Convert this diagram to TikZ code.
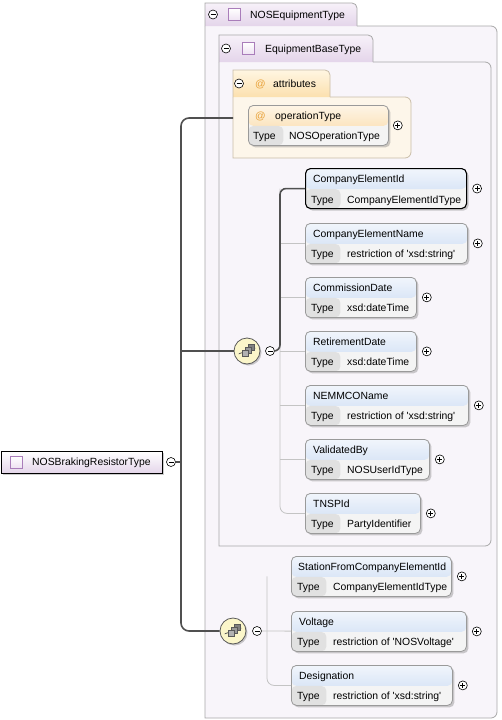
\documentclass[tikz,border=0pt]{standalone}
\usepackage{fontspec}
\setmainfont{Liberation Sans}
\usetikzlibrary{shadows}

\definecolor{lavtop}{HTML}{F7F1F9}
\definecolor{lavbot}{HTML}{E4D5EA}
\definecolor{lavbody}{HTML}{F8F5FA}
\definecolor{boxline}{HTML}{A8A8A8}
\definecolor{attrtop}{HTML}{FFF6E2}
\definecolor{attrbot}{HTML}{FCE0AE}
\definecolor{attrbody}{HTML}{FDF6EA}
\definecolor{attrline}{HTML}{C9BDA8}
\definecolor{hdblue}{HTML}{C6D8F2}
\definecolor{hdorange}{HTML}{FAD69C}
\definecolor{typecell}{HTML}{E1E1E1}
\definecolor{valcell}{HTML}{F4F4F4}
\definecolor{elemline}{HTML}{9A9A9A}
\definecolor{seqfill}{HTML}{FBF6CA}
\definecolor{wirecol}{HTML}{505050}
\definecolor{twigcol}{HTML}{C4C4C4}
\definecolor{atsign}{HTML}{E8A23A}
\definecolor{iconline}{HTML}{A97DBA}
\definecolor{iconfill}{HTML}{EEE2F2}

\begin{document}
\begin{tikzpicture}[x=1pt, y=-1pt,
txt/.style={font=\fontsize{10.4}{12}\selectfont, inner sep=0pt, text height=7pt, text depth=0pt, anchor=west},
cbox/.style={draw=boxline, line width=0.8pt},
elem/.style={draw=elemline, line width=0.8pt, rounded corners=5pt, minimum height=40pt, inner sep=0pt, anchor=north west, fill=valcell,
  drop shadow={shadow xshift=2pt, shadow yshift=-2pt, fill=black!50, opacity=0.4},
  path picture={
    \shade[top color=#1!25!white, bottom color=#1] (path picture bounding box.north west) rectangle ([yshift=19.5pt]path picture bounding box.south east);
    \fill[typecell] ([yshift=19.5pt]path picture bounding box.south west) rectangle ([xshift=35pt]path picture bounding box.south west);
  }},
sel/.style={draw=black, line width=1.1pt},
pm/.style={circle, draw=black, fill=white, line width=0.6pt, minimum size=9pt, inner sep=0pt},
minus/.style={pm, path picture={\draw[line width=0.7pt] ([xshift=-2.5pt]path picture bounding box.center) -- ([xshift=2.5pt]path picture bounding box.center);}},
plus/.style={pm, path picture={\draw[line width=0.7pt] ([xshift=-2.5pt]path picture bounding box.center) -- ([xshift=2.5pt]path picture bounding box.center) ([yshift=-2.5pt]path picture bounding box.center) -- ([yshift=2.5pt]path picture bounding box.center);}},
seq/.style={circle, draw=black!65, line width=0.8pt, fill=seqfill, minimum size=26pt, inner sep=0pt,
  drop shadow={shadow xshift=1.5pt, shadow yshift=-1.5pt, fill=black!50, opacity=0.4},
  path picture={
    \coordinate (g) at (path picture bounding box.center);
    \draw[line width=0.8pt] ([shift={(-9,3)}]g) -- ([shift={(9,-3)}]g);
    \fill ([shift={(-9,3)}]g) circle (1.2pt) ([shift={(9,-3)}]g) circle (1.2pt);
    \draw[fill=black!50, line width=0.6pt] ([shift={(1,-7)}]g) rectangle ([shift={(7,-1)}]g);
    \draw[fill=black!40, line width=0.6pt] ([shift={(-2,-4)}]g) rectangle ([shift={(4,2)}]g);
    \draw[fill=black!30, line width=0.6pt] ([shift={(-5,-1)}]g) rectangle ([shift={(1,5)}]g);
  }},
mainbox/.style={draw=black, line width=0.9pt, top color=white, bottom color=lavbot, minimum width=161pt, minimum height=22pt, inner sep=0pt, anchor=north west,
  drop shadow={shadow xshift=2pt, shadow yshift=-2pt, fill=black!50, opacity=0.4}},
tyicon/.style={draw=iconline, line width=0.7pt, top color=white, bottom color=iconfill, minimum size=12pt, inner sep=0pt},
wire/.style={draw=wirecol, line width=1.6pt},
twig/.style={draw=twigcol, line width=0.8pt}]
\useasboundingbox (0,0) rectangle (501,720);

\draw[cbox, fill=lavbody] (357,26) [rounded corners=6pt] -- (497,26) -- (497,718) [sharp corners] -- (205,718) -- (205,26);
\draw[cbox, top color=lavtop, bottom color=lavbot] (205,26) -- (205,3) [rounded corners=5pt] -- (357,3) [sharp corners] -- (357,26);
\node[minus] (eqminus) at (213,14.5) {};
\node[tyicon] (eqicon) at (234,14.5) {};
\node[txt] (eqname) at (250,14.5) {NOSEquipmentType};

\draw[cbox, fill=lavbody] (373,62) [rounded corners=6pt] -- (491,62) -- (491,546) [sharp corners] -- (219,546) -- (219,62);
\draw[cbox, top color=lavtop, bottom color=lavbot] (219,62) -- (219,35) [rounded corners=5pt] -- (373,35) [sharp corners] -- (373,62);
\node[minus] (baseminus) at (226,48.5) {};
\node[tyicon] (baseicon) at (248,48.5) {};
\node[txt] (basename) at (265,48.5) {EquipmentBaseType};

\draw[cbox, draw=attrline, fill=attrbody] (330,97) [rounded corners=6pt] -- (411,97) -- (411,158) [sharp corners] -- (233,158) -- (233,97);
\draw[cbox, draw=attrline, top color=attrtop, bottom color=attrbot] (233,97) -- (233,70) [rounded corners=5pt] -- (330,70) [sharp corners] -- (330,97);
\node[minus] (attrminus) at (239,83.5) {};
\node[txt] (attrat) at (255,83.5) {\textcolor{atsign}{@}};
\node[txt] (attrname) at (273,83.5) {attributes};

\node[elem=hdorange, minimum width=140] (optype) at (248,105) {};
\node[txt] (optypeat) at ([xshift=7pt,yshift=-10.5pt]optype.north west) {\textcolor{atsign}{@}};
\node[txt] (optypename) at ([xshift=27pt,yshift=-10.5pt]optype.north west) {operationType};
\node[txt] (optypetype) at ([xshift=5pt,yshift=9.5pt]optype.south west) {Type};
\node[txt] (optypeval) at ([xshift=41pt,yshift=9.5pt]optype.south west) {NOSOperationType};
\node[plus] (optypeplus) at ([xshift=9pt]optype.east) {};

\node[elem=hdblue, sel, minimum width=161] (cid) at (305,168) {};
\node[txt] (cidname) at ([xshift=8pt,yshift=-10.5pt]cid.north west) {CompanyElementId};
\node[txt] (cidtype) at ([xshift=6pt,yshift=9.5pt]cid.south west) {Type};
\node[txt] (cidval) at ([xshift=42pt,yshift=9.5pt]cid.south west) {CompanyElementIdType};
\node[plus] (cidplus) at ([xshift=10pt]cid.east) {};

\node[elem=hdblue, minimum width=162] (cname) at (305,223) {};
\node[txt] (cnamename) at ([xshift=8pt,yshift=-10.5pt]cname.north west) {CompanyElementName};
\node[txt] (cnametype) at ([xshift=6pt,yshift=9.5pt]cname.south west) {Type};
\node[txt] (cnameval) at ([xshift=42pt,yshift=9.5pt]cname.south west) {restriction of \textquotesingle xsd:string\textquotesingle};
\node[plus] (cnameplus) at ([xshift=10pt]cname.east) {};

\node[elem=hdblue, minimum width=111] (commdate) at (305,277) {};
\node[txt] (commdatename) at ([xshift=8pt,yshift=-10.5pt]commdate.north west) {CommissionDate};
\node[txt] (commdatetype) at ([xshift=6pt,yshift=9.5pt]commdate.south west) {Type};
\node[txt] (commdateval) at ([xshift=42pt,yshift=9.5pt]commdate.south west) {xsd:dateTime};
\node[plus] (commdateplus) at ([xshift=10pt]commdate.east) {};

\node[elem=hdblue, minimum width=111] (retdate) at (305,331) {};
\node[txt] (retdatename) at ([xshift=8pt,yshift=-10.5pt]retdate.north west) {RetirementDate};
\node[txt] (retdatetype) at ([xshift=6pt,yshift=9.5pt]retdate.south west) {Type};
\node[txt] (retdateval) at ([xshift=42pt,yshift=9.5pt]retdate.south west) {xsd:dateTime};
\node[plus] (retdateplus) at ([xshift=10pt]retdate.east) {};

\node[elem=hdblue, minimum width=163] (nemmco) at (305,385) {};
\node[txt] (nemmconame) at ([xshift=8pt,yshift=-10.5pt]nemmco.north west) {NEMMCOName};
\node[txt] (nemmcotype) at ([xshift=6pt,yshift=9.5pt]nemmco.south west) {Type};
\node[txt] (nemmcoval) at ([xshift=42pt,yshift=9.5pt]nemmco.south west) {restriction of \textquotesingle xsd:string\textquotesingle};
\node[plus] (nemmcoplus) at ([xshift=10pt]nemmco.east) {};

\node[elem=hdblue, minimum width=124] (validby) at (305,439) {};
\node[txt] (validbyname) at ([xshift=8pt,yshift=-10.5pt]validby.north west) {ValidatedBy};
\node[txt] (validbytype) at ([xshift=6pt,yshift=9.5pt]validby.south west) {Type};
\node[txt] (validbyval) at ([xshift=42pt,yshift=9.5pt]validby.south west) {NOSUserIdType};
\node[plus] (validbyplus) at ([xshift=10pt]validby.east) {};

\node[elem=hdblue, minimum width=115] (tnsp) at (305,493) {};
\node[txt] (tnspname) at ([xshift=8pt,yshift=-10.5pt]tnsp.north west) {TNSPId};
\node[txt] (tnsptype) at ([xshift=6pt,yshift=9.5pt]tnsp.south west) {Type};
\node[txt] (tnspval) at ([xshift=42pt,yshift=9.5pt]tnsp.south west) {PartyIdentifier};
\node[plus] (tnspplus) at ([xshift=10pt]tnsp.east) {};

\node[elem=hdblue, minimum width=160] (station) at (291,556) {};
\node[txt] (stationname) at ([xshift=7pt,yshift=-10.5pt]station.north west) {StationFromCompanyElementId};
\node[txt] (stationtype) at ([xshift=6pt,yshift=9.5pt]station.south west) {Type};
\node[txt] (stationval) at ([xshift=42pt,yshift=9.5pt]station.south west) {CompanyElementIdType};
\node[plus] (stationplus) at ([xshift=10pt]station.east) {};

\node[elem=hdblue, minimum width=175] (volt) at (291,611) {};
\node[txt] (voltname) at ([xshift=8pt,yshift=-10.5pt]volt.north west) {Voltage};
\node[txt] (volttype) at ([xshift=6pt,yshift=9.5pt]volt.south west) {Type};
\node[txt] (voltval) at ([xshift=42pt,yshift=9.5pt]volt.south west) {restriction of \textquotesingle NOSVoltage\textquotesingle};
\node[plus] (voltplus) at ([xshift=10pt]volt.east) {};

\node[elem=hdblue, minimum width=161] (desig) at (291,665) {};
\node[txt] (designame) at ([xshift=8pt,yshift=-10.5pt]desig.north west) {Designation};
\node[txt] (desigtype) at ([xshift=6pt,yshift=9.5pt]desig.south west) {Type};
\node[txt] (desigval) at ([xshift=42pt,yshift=9.5pt]desig.south west) {restriction of \textquotesingle xsd:string\textquotesingle};
\node[plus] (desigplus) at ([xshift=10pt]desig.east) {};

\node[seq] (seqa) at (247,351) {};
\node[minus] (seqaminus) at (270,351) {};
\coordinate (abus) at (280,351);
\node[seq] (seqb) at (233,631) {};
\node[minus] (seqbminus) at (257,631) {};
\coordinate (bbus) at (267,631);

\node[mainbox] (mainel) at (1,451) {};
\node[tyicon] (mainicon) at (16,462) {};
\node[txt] (mainname) at (32,462) {NOSBrakingResistorType};
\node[minus] (mainminus) at (171,462) {};
\coordinate (trunk) at (181,462);
\coordinate (attrin) at (233,118);

\draw[twig, rounded corners=7pt] (abus |- cid) |- (tnsp);
\foreach \e in {cname,commdate,retdate,nemmco,validby}
  \draw[twig] (abus |- \e) -- (\e);
\draw[twig, rounded corners=7pt] (bbus |- station) |- (desig);
\draw[twig] (seqbminus) -- (volt);
\draw[wire, rounded corners=8pt] (attrin) -| (trunk) |- (seqb);
\draw[wire] (mainminus) -- (trunk);
\draw[wire] (trunk |- seqa) -- (seqa);
\draw[wire, rounded corners=6pt] (seqaminus) -- (abus) |- (cid);
\end{tikzpicture}
\end{document}
